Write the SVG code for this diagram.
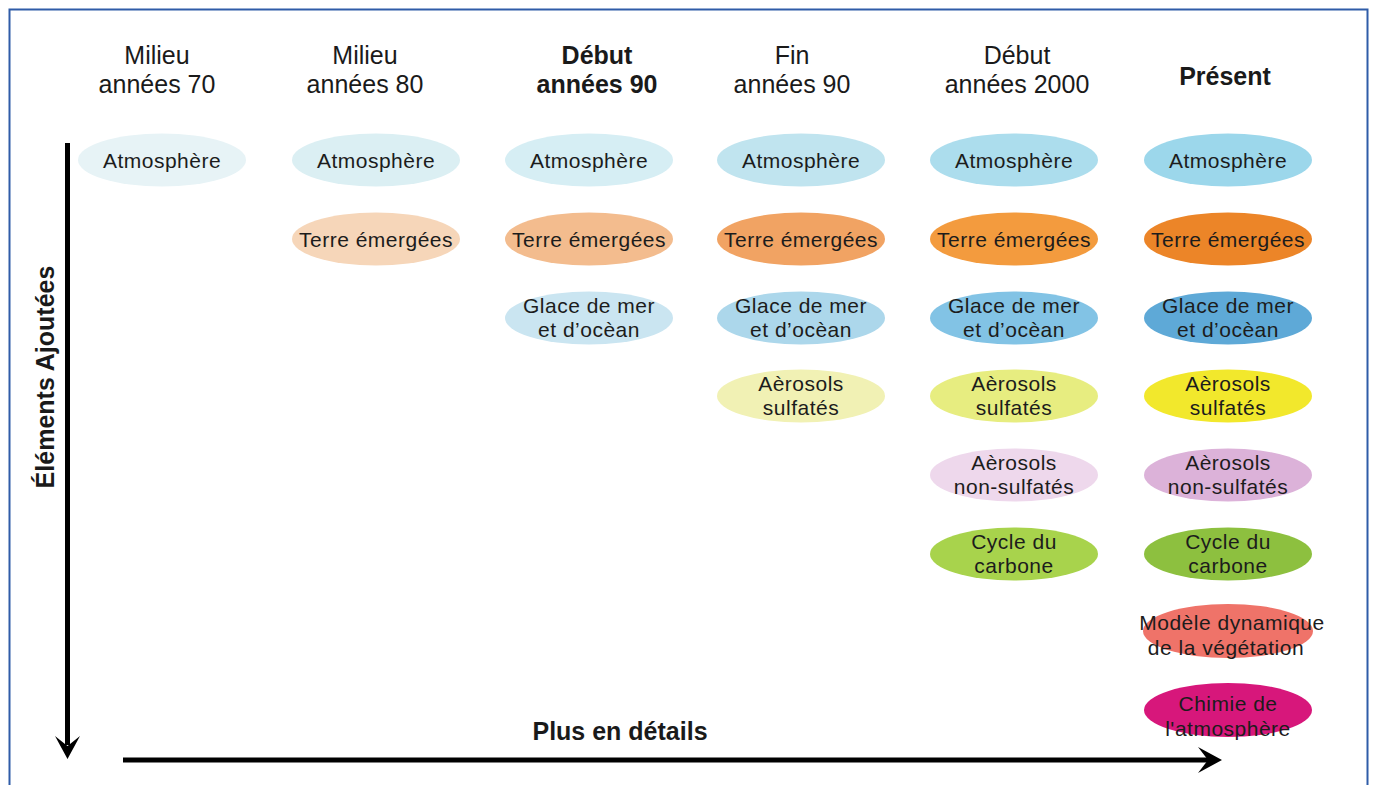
<svg xmlns="http://www.w3.org/2000/svg" width="1373" height="785" viewBox="0 0 1373 785">
<style>
.h{font-family:"Liberation Sans",Arial,sans-serif;font-size:25px;text-anchor:middle;fill:#1a1a1a}
.b{font-weight:bold}
.n{font-family:"Liberation Sans",Arial,sans-serif;font-size:21px;letter-spacing:0.5px;text-anchor:middle;fill:#1c1c1c}
.ax{stroke:#000;stroke-width:5;fill:none}
</style>
<rect width="1373" height="785" fill="#fff"/>
<rect x="9.5" y="9.5" width="1358" height="800" fill="none" stroke="#2f5ca8" stroke-width="2"/>

<g id="headers">
<text class="h" x="157" y="64">Milieu</text><text class="h" x="157" y="93">années 70</text>
<text class="h" x="365" y="64">Milieu</text><text class="h" x="365" y="93">années 80</text>
<text class="h b" x="597" y="64">Début</text><text class="h b" x="597" y="93">années 90</text>
<text class="h" x="792" y="64">Fin</text><text class="h" x="792" y="93">années 90</text>
<text class="h" x="1017" y="64">Début</text><text class="h" x="1017" y="93">années 2000</text>
<text class="h b" x="1225" y="85">Présent</text>
</g>

<g id="axis-labels">
<text class="h b" transform="translate(54,377) rotate(-90)" x="0" y="0">Éléments Ajoutées</text>
<text class="h b" x="620" y="740">Plus en détails</text>
</g>

<g id="connectors">
<line class="ax" x1="67.5" y1="143" x2="67.5" y2="745"/>
<polygon points="55,736 67.5,759 80,736 67.5,746" fill="#000"/>
<line class="ax" x1="123" y1="760" x2="1208" y2="760"/>
<polygon points="1198,747 1222,760 1198,773 1208,760" fill="#000"/>
</g>

<!-- Column 1 -->
<g id="c1-atmosphere"><ellipse cx="162" cy="160" rx="84" ry="26.5" fill="#e7f3f6"/><text class="n" x="162" y="168">Atmosphère</text></g>

<!-- Column 2 -->
<g id="c2-atmosphere"><ellipse cx="376" cy="160" rx="84" ry="26.5" fill="#dbeff3"/><text class="n" x="376" y="168">Atmosphère</text></g>
<g id="c2-terre"><ellipse cx="376" cy="239" rx="84" ry="26.5" fill="#f6d6b9"/><text class="n" x="376" y="247">Terre émergées</text></g>

<!-- Column 3 -->
<g id="c3-atmosphere"><ellipse cx="589" cy="160" rx="84" ry="26.5" fill="#d6eef4"/><text class="n" x="589" y="168">Atmosphère</text></g>
<g id="c3-terre"><ellipse cx="589" cy="239" rx="84" ry="26.5" fill="#f3bc8e"/><text class="n" x="589" y="247">Terre émergées</text></g>
<g id="c3-glace"><ellipse cx="589" cy="318" rx="84" ry="26.5" fill="#cae5f1"/><text class="n" x="589" y="312.5">Glace de mer</text><text class="n" x="589" y="336.5">et d’ocèan</text></g>

<!-- Column 4 -->
<g id="c4-atmosphere"><ellipse cx="801" cy="160" rx="84" ry="26.5" fill="#c0e4ef"/><text class="n" x="801" y="168">Atmosphère</text></g>
<g id="c4-terre"><ellipse cx="801" cy="239" rx="84" ry="26.5" fill="#f1a363"/><text class="n" x="801" y="247">Terre émergées</text></g>
<g id="c4-glace"><ellipse cx="801" cy="318" rx="84" ry="26.5" fill="#acd7eb"/><text class="n" x="801" y="312.5">Glace de mer</text><text class="n" x="801" y="336.5">et d’ocèan</text></g>
<g id="c4-aerosols"><ellipse cx="801" cy="396" rx="84" ry="26.5" fill="#f1f1b4"/><text class="n" x="801" y="390.5">Aèrosols</text><text class="n" x="801" y="414.5">sulfatés</text></g>

<!-- Column 5 -->
<g id="c5-atmosphere"><ellipse cx="1014" cy="160" rx="84" ry="26.5" fill="#acdded"/><text class="n" x="1014" y="168">Atmosphère</text></g>
<g id="c5-terre"><ellipse cx="1014" cy="239" rx="84" ry="26.5" fill="#f39b3e"/><text class="n" x="1014" y="247">Terre émergées</text></g>
<g id="c5-glace"><ellipse cx="1014" cy="318" rx="84" ry="26.5" fill="#82c3e5"/><text class="n" x="1014" y="312.5">Glace de mer</text><text class="n" x="1014" y="336.5">et d’ocèan</text></g>
<g id="c5-aerosols"><ellipse cx="1014" cy="396" rx="84" ry="26.5" fill="#e7ed80"/><text class="n" x="1014" y="390.5">Aèrosols</text><text class="n" x="1014" y="414.5">sulfatés</text></g>
<g id="c5-nonsulf"><ellipse cx="1014" cy="475" rx="84" ry="26.5" fill="#eed8ec"/><text class="n" x="1014" y="469.5">Aèrosols</text><text class="n" x="1014" y="493.5">non-sulfatés</text></g>
<g id="c5-carbone"><ellipse cx="1014" cy="554" rx="84" ry="26.5" fill="#a8d34c"/><text class="n" x="1014" y="548.5">Cycle du</text><text class="n" x="1014" y="572.5">carbone</text></g>

<!-- Column 6 -->
<g id="c6-atmosphere"><ellipse cx="1228" cy="160" rx="84" ry="26.5" fill="#9cd7eb"/><text class="n" x="1228" y="168">Atmosphère</text></g>
<g id="c6-terre"><ellipse cx="1228" cy="239" rx="84" ry="26.5" fill="#ec8528"/><text class="n" x="1228" y="247">Terre émergées</text></g>
<g id="c6-glace"><ellipse cx="1228" cy="318" rx="84" ry="26.5" fill="#5ea9d7"/><text class="n" x="1228" y="312.5">Glace de mer</text><text class="n" x="1228" y="336.5">et d’ocèan</text></g>
<g id="c6-aerosols"><ellipse cx="1228" cy="396" rx="84" ry="26.5" fill="#f2e82c"/><text class="n" x="1228" y="390.5">Aèrosols</text><text class="n" x="1228" y="414.5">sulfatés</text></g>
<g id="c6-nonsulf"><ellipse cx="1228" cy="475" rx="84" ry="26.5" fill="#dcb2d9"/><text class="n" x="1228" y="469.5">Aèrosols</text><text class="n" x="1228" y="493.5">non-sulfatés</text></g>
<g id="c6-carbone"><ellipse cx="1228" cy="554" rx="84" ry="26.5" fill="#8dc03f"/><text class="n" x="1228" y="548.5">Cycle du</text><text class="n" x="1228" y="572.5">carbone</text></g>
<g id="c6-vegetation"><ellipse cx="1228" cy="631" rx="85" ry="27" fill="#ef7369"/><text class="n" x="1232" y="630">Modèle dynamique</text><text class="n" x="1226" y="655">de la végétation</text></g>
<g id="c6-chimie"><ellipse cx="1228" cy="710" rx="84" ry="27" fill="#d7177b"/><text class="n" x="1228" y="711">Chimie de</text><text class="n" x="1228" y="736">l'atmosphère</text></g>
</svg>
